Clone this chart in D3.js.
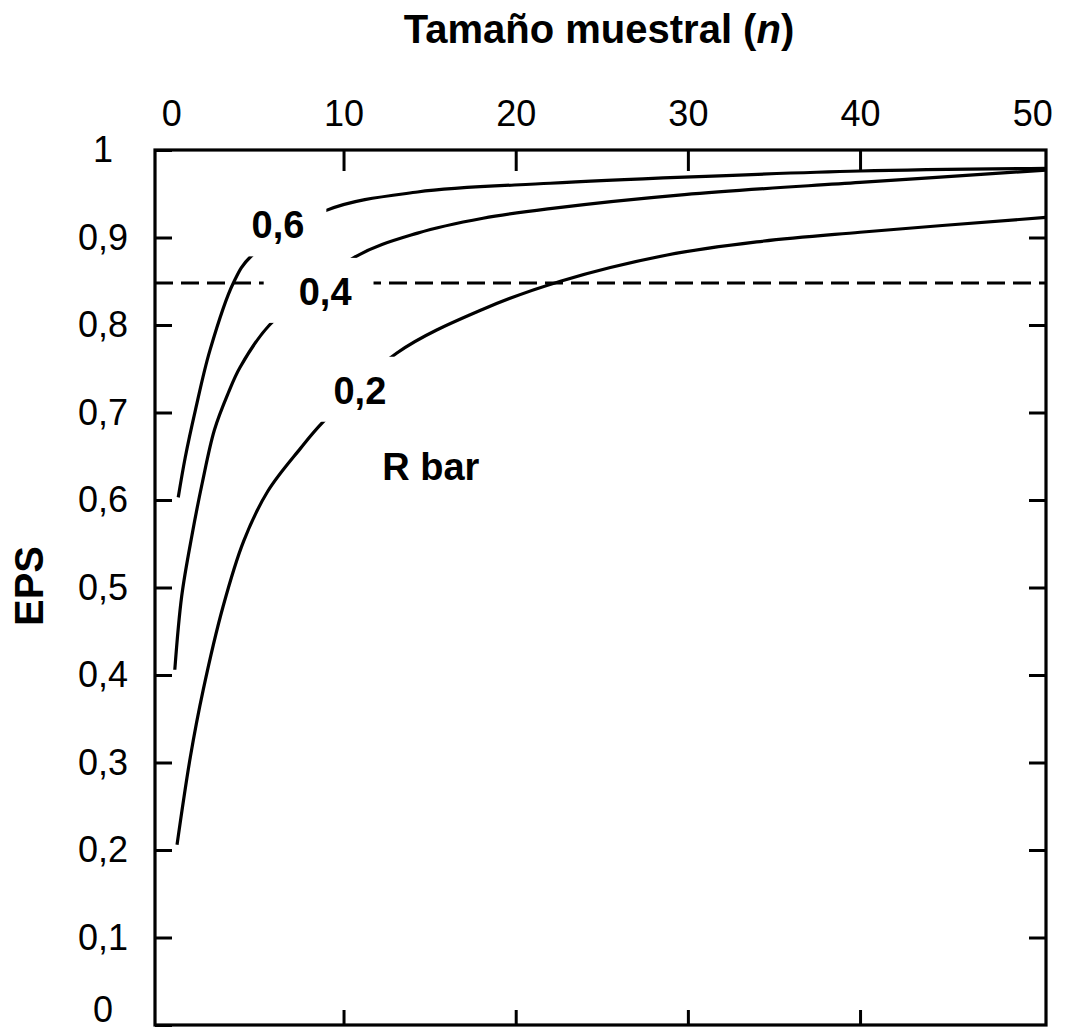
<!DOCTYPE html>
<html>
<head>
<meta charset="utf-8">
<script src="https://cdnjs.cloudflare.com/ajax/libs/d3/7.8.5/d3.min.js"></script>
<style>
body { margin: 0; background: #fff; }
text { font-family: "Liberation Sans", Arial, sans-serif; fill: #000; }
</style>
</head>
<body>
<div id="chart"></div>
<script>
// values (n = sample size, EPS)
var n06 = [0.4, 0.8, 1.4, 2.24, 3.6, 4.6, 9.0, 14.3, 22, 29.8, 40, 50.8];
var eps06 = [0.603, 0.648, 0.703, 0.771, 0.848, 0.878, 0.931, 0.952, 0.962, 0.969, 0.976, 0.979];
var n04 = [0.2, 0.6, 1.2, 1.8, 2.5, 3.3, 4.0, 5.7, 10.6, 14.3, 18.1, 22, 29.8, 40, 50.8];
var eps04 = [0.406, 0.49, 0.56, 0.62, 0.68, 0.722, 0.752, 0.80, 0.877, 0.905, 0.922, 0.933, 0.949, 0.963, 0.977];
var n02 = [0.33, 1.1, 1.85, 3.0, 4.2, 5.6, 7.5, 8.8, 13.1, 18.1, 22.6, 28.8, 34, 40, 50.8];
var eps02 = [0.206, 0.306, 0.383, 0.478, 0.553, 0.610, 0.659, 0.689, 0.768, 0.818, 0.850, 0.880, 0.895, 0.906, 0.923];
var threshold = 0.848;
var rLabels = ["0,6", "0,4", "0,2"];
var xTicks = [0, 10, 20, 30, 40, 50];
var yTicks = [0, 0.1, 0.2, 0.3, 0.4, 0.5, 0.6, 0.7, 0.8, 0.9, 1];
var yTickLabels = ["0", "0,1", "0,2", "0,3", "0,4", "0,5", "0,6", "0,7", "0,8", "0,9", "1"];

var w = 1073, h = 1031;
var frame = {left: 155, right: 1046, top: 150, bottom: 1025};

var svg = d3.select("#chart").append("svg")
  .attr("width", w)
  .attr("height", h);

var x = d3.scaleLinear().domain([-0.95, 50.8]).range([frame.left, frame.right]);
var y = d3.scaleLinear().domain([0, 1]).range([frame.bottom, frame.top]);

// curves
var series = [
  {n: n06, eps: eps06},
  {n: n04, eps: eps04},
  {n: n02, eps: eps02}
];
var line = d3.line()
  .x(function(d) { return x(d[0]); })
  .y(function(d) { return y(d[1]); })
  .curve(d3.curveCatmullRom.alpha(0.5));

svg.append("g").selectAll("path")
  .data(series)
  .enter()
  .append("path")
  .attr("d", function(s) { return line(d3.zip(s.n, s.eps)); })
  .attr("fill", "none")
  .attr("stroke", "#000")
  .attr("stroke-width", 3.2);

// dashed reference line
svg.append("line")
  .attr("x1", x.range()[0]).attr("x2", x.range()[1])
  .attr("y1", y(threshold)).attr("y2", y(threshold))
  .attr("stroke", "#000")
  .attr("stroke-width", 3)
  .attr("stroke-dasharray", "18,8");

// curve labels, each on a white patch that hides the lines behind it
var labelPos = [[6.19, 0.899], [8.93, 0.823], [10.95, 0.710]];
var lab = svg.append("g");
rLabels.forEach(function(t, i) {
  var g = lab.append("g");
  var rect = g.append("rect").attr("fill", "#fff");
  var txt = g.append("text")
    .text(t)
    .attr("x", x(labelPos[i][0]))
    .attr("y", y(labelPos[i][1]))
    .attr("text-anchor", "middle")
    .attr("font-size", 38)
    .attr("font-weight", "bold");
  var tw = txt.node().getComputedTextLength();
  var cx = x(labelPos[i][0]), by = y(labelPos[i][1]);
  rect.attr("x", cx - tw / 2 - 35)
    .attr("y", by - 27 - 20)
    .attr("width", tw + 35 + 22)
    .attr("height", 27 + 20 + 18);
});
lab.append("text")
  .text("R bar")
  .attr("x", x(15.07))
  .attr("y", y(0.623))
  .attr("text-anchor", "middle")
  .attr("font-size", 38)
  .attr("font-weight", "bold");

// axes
var yLeft = d3.axisLeft(y)
  .tickValues(yTicks)
  .tickSizeInner(-17)
  .tickSizeOuter(0)
  .tickFormat(function(d, i) { return yTickLabels[i]; });
var gl = svg.append("g")
  .attr("transform", "translate(" + frame.left + ",0)")
  .call(yLeft);
gl.selectAll("text")
  .attr("text-anchor", "middle")
  .attr("x", -52)
  .attr("font-size", 36)
  .attr("font-family", "Liberation Sans, Arial, sans-serif");
// the bottom "0" sits a little higher than its tick in the figure
gl.selectAll(".tick").filter(function(d) { return d === 0; })
  .select("text").attr("y", -15);

var yRight = d3.axisRight(y)
  .tickValues(yTicks.slice(1, -1))
  .tickSizeInner(-17)
  .tickSizeOuter(0)
  .tickFormat("");
svg.append("g")
  .attr("transform", "translate(" + frame.right + ",0)")
  .call(yRight);

var xTop = d3.axisTop(x)
  .tickValues(xTicks)
  .tickSize(0)
  .tickPadding(24)
  .tickFormat(d3.format("d"));
var gt = svg.append("g")
  .attr("transform", "translate(0," + frame.top + ")")
  .call(xTop);
gt.selectAll("text")
  .attr("font-size", 36)
  .attr("font-family", "Liberation Sans, Arial, sans-serif");

var xTopTicks = d3.axisTop(x).tickValues(xTicks.slice(1, -1)).tickSizeInner(-21).tickSizeOuter(0).tickFormat("");
svg.append("g").attr("transform", "translate(0," + frame.top + ")").call(xTopTicks);
var xBotTicks = d3.axisBottom(x).tickValues(xTicks.slice(1, -1)).tickSizeInner(-15).tickSizeOuter(0).tickFormat("");
svg.append("g").attr("transform", "translate(0," + frame.bottom + ")").call(xBotTicks);

svg.selectAll(".domain").remove();
svg.selectAll(".tick line").attr("stroke", "#000").attr("stroke-width", 3);

// frame
svg.append("rect")
  .attr("x", frame.left).attr("y", frame.top)
  .attr("width", frame.right - frame.left)
  .attr("height", frame.bottom - frame.top)
  .attr("fill", "none")
  .attr("stroke", "#000")
  .attr("stroke-width", 3.2);

// titles
var title = svg.append("text")
  .attr("x", 599)
  .attr("y", 43)
  .attr("text-anchor", "middle")
  .attr("font-size", 40)
  .attr("font-weight", "bold");
title.append("tspan").text("Tamaño muestral (");
title.append("tspan").text("n").attr("font-style", "italic");
title.append("tspan").text(")");

svg.append("text")
  .text("EPS")
  .attr("transform", "translate(43,586) rotate(-90)")
  .attr("text-anchor", "middle")
  .attr("font-size", 40)
  .attr("font-weight", "bold");
</script>
</body>
</html>
